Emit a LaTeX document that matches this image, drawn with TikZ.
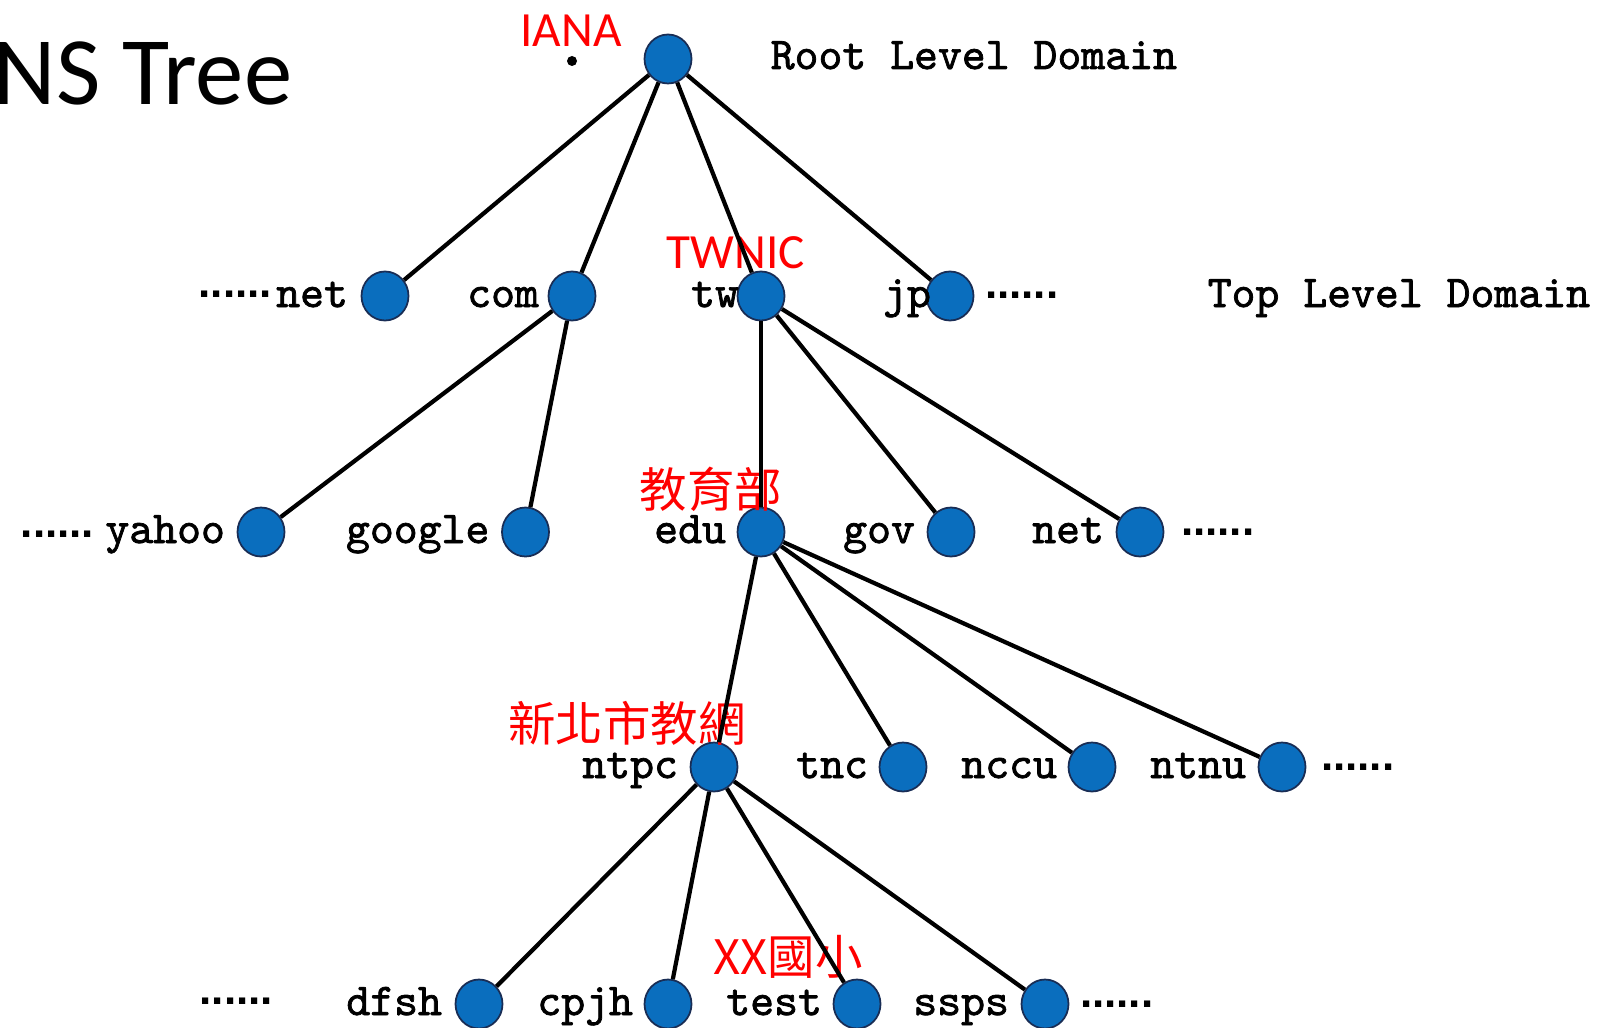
\documentclass[tikz,border=0pt]{standalone}
\usepackage{fontspec}
\newfontfamily\labelfont[FakeBold=1.6]{lmmono10-regular.otf}
\newfontfamily\dotfont{Liberation Sans}
\newfontfamily\notefont{Carlito}
\newfontfamily\cjkfont{Noto Sans CJK TC}
\usetikzlibrary{shapes,positioning}
\definecolor{nodeblue}{RGB}{10,110,190}
\definecolor{nodeedge}{RGB}{25,45,85}

\begin{document}
\begin{tikzpicture}[
  dom/.style={shape=ellipse,draw=nodeedge,fill=nodeblue,line width=0.5pt,minimum width=0.47cm,minimum height=0.49cm,inner sep=0pt},
  wire/.style={-,draw=black,line width=1.2pt},
  lbl/.style={anchor=base east,yshift=-0.11cm,inner sep=0pt,font=\labelfont\fontsize{12.95}{15}\selectfont},
  lvl/.style={anchor=base west,inner sep=0pt,font=\labelfont\fontsize{12.95}{15}\selectfont},
  more/.style={yshift=-0.03cm,inner sep=0pt,font=\dotfont\bfseries\fontsize{12.5}{14}\selectfont},
  note/.style={text=red,inner sep=0pt,font=\notefont\fontsize{14}{16}\selectfont},
  cjknote/.style={text=red,inner sep=0pt,font=\cjkfont\fontsize{13.5}{15}\selectfont}]
\useasboundingbox (0,0) rectangle (16,10.27);

% title, cut at the left edge
\node[anchor=base west,inner sep=0pt,font=\notefont\fontsize{27.5}{31}\selectfont] (title) at (-0.07,9.22) {NS Tree};

% domain nodes
\node[dom] (root) at (6.68,9.68) {};
\node[dom] (net) at (3.85,7.31) {};
\node[dom] (com) at (5.72,7.31) {};
\node[dom] (tw) at (7.61,7.31) {};
\node[dom] (jp) at (9.50,7.31) {};
\node[dom] (yahoo) at (2.61,4.95) {};
\node[dom] (google) at (5.255,4.95) {};
\node[dom] (edu) at (7.61,4.95) {};
\node[dom] (gov) at (9.51,4.95) {};
\node[dom] (net2) at (11.40,4.95) {};
\node[dom] (ntpc) at (7.14,2.60) {};
\node[dom] (tnc) at (9.03,2.60) {};
\node[dom] (nccu) at (10.92,2.60) {};
\node[dom] (ntnu) at (12.82,2.60) {};
\node[dom] (dfsh) at (4.79,0.23) {};
\node[dom] (cpjh) at (6.68,0.23) {};
\node[dom] (test) at (8.57,0.23) {};
\node[dom] (ssps) at (10.45,0.23) {};
\node[circle,fill=black,inner sep=0pt,minimum size=0.1cm] (rootdot) at (5.72,9.66) {};

% red notes
\node[note] (iana) at (5.71,9.96) {IANA};
\node[note] (twnic) at (7.36,7.74) {TWNIC};
\node[cjknote] (moe) at (7.11,5.38) {教育部};
\node[cjknote] (ntpcnote) at (6.27,3.04) {新北市教網};
\node[cjknote] (school) at (7.88,0.70) {XX國小};

% levels
\node[lvl] (rootlvl) at (7.70,9.58) {Root Level Domain};
\node[lvl] (toplvl) at (12.07,7.20) {Top Level Domain};

\path [wire] (root) edge (net);
\path [wire] (root) edge (com);
\path [wire] (root) edge (tw);
\path [wire] (root) edge (jp);
\path [wire] (com) edge (yahoo);
\path [wire] (com) edge (google);
\path [wire] (tw) edge (edu);
\path [wire] (tw) edge (gov);
\path [wire] (tw) edge (net2);
\path [wire] (edu) edge (ntpc);
\path [wire] (edu) edge (tnc);
\path [wire] (edu) edge (nccu);
\path [wire] (edu) edge (ntnu);
\path [wire] (ntpc) edge (dfsh);
\path [wire] (ntpc) edge (cpjh);
\path [wire] (ntpc) edge (test);
\path [wire] (ntpc) edge (ssps);

% names
\node[left=0.12cm of net,lbl] (netlbl) {net};
\node[left=0.08cm of com,lbl] (comlbl) {com};
\node[left=-0.03cm of tw,lbl] (twlbl) {tw};
\node[left=-0.06cm of jp,lbl] (jplbl) {jp};
\node[left=0.11cm of yahoo,lbl] (yahoolbl) {yahoo};
\node[left=0.11cm of google,lbl] (googlelbl) {google};
\node[left=0.10cm of edu,lbl] (edulbl) {edu};
\node[left=0.11cm of gov,lbl] (govlbl) {gov};
\node[left=0.11cm of net2,lbl] (net2lbl) {net};
\node[left=0.11cm of ntpc,lbl] (ntpclbl) {ntpc};
\node[left=0.10cm of tnc,lbl] (tnclbl) {tnc};
\node[left=0.10cm of nccu,lbl] (nccullbl) {nccu};
\node[left=0.11cm of ntnu,lbl] (ntnulbl) {ntnu};
\node[left=0.12cm of dfsh,lbl] (dfshlbl) {dfsh};
\node[left=0.10cm of cpjh,lbl] (cpjhlbl) {cpjh};
\node[left=0.10cm of test,lbl] (testlbl) {test};
\node[left=0.11cm of ssps,lbl] (sspslbl) {ssps};

% more ...
\node[left=0.03cm of netlbl.west,more,anchor=base east] (more1) {......};
\node[right=0.10cm of jp,more,anchor=base west] (more2) {......};
\node[left=0.10cm of yahoolbl.west,more,anchor=base east] (more3) {......};
\node[right=0.16cm of net2,more,anchor=base west] (more4) {......};
\node[right=0.14cm of ntnu,more,anchor=base west] (more5) {......};
\node[left=0.72cm of dfshlbl.west,more,anchor=base east] (more6) {......};
\node[right=0.10cm of ssps,more,anchor=base west] (more7) {......};
\end{tikzpicture}
\end{document}
